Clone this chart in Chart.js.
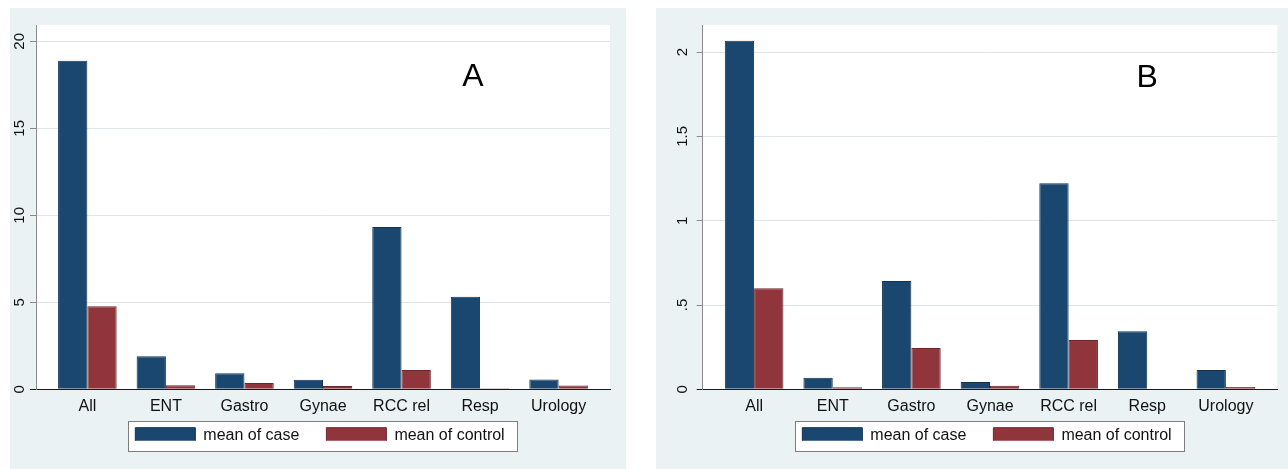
<!DOCTYPE html>
<html>
<head>
<meta charset="utf-8">
<script src="https://cdn.jsdelivr.net/npm/chart.js@4.4.0/dist/chart.umd.min.js"></script>
<style>
  html, body { margin: 0; padding: 0; background: #fff; }
  body { width: 1288px; height: 469px; position: relative; overflow: hidden; }
  .panel { position: absolute; top: 8px; height: 461px; background: #eaf2f3; }
  #panel-a { left: 10px; width: 616px; }
  #panel-b { left: 656px; width: 632px; }
</style>
</head>
<body>
<div class="panel" id="panel-a"><canvas id="chart-a"></canvas></div>
<div class="panel" id="panel-b"><canvas id="chart-b"></canvas></div>
<script>
// Data
const categories = ['All', 'ENT', 'Gastro', 'Gynae', 'RCC rel', 'Resp', 'Urology'];

const caseA = [18.88, 1.90, 0.92, 0.55, 9.33, 5.32, 0.57];
const controlA = [4.77, 0.23, 0.36, 0.19, 1.11, 0.06, 0.22];
const tickValuesA = [0, 5, 10, 15, 20];
const tickLabelsA = ['0', '5', '10', '15', '20'];

const caseB = [2.068, 0.069, 0.642, 0.043, 1.222, 0.344, 0.114];
const controlB = [0.600, 0.012, 0.245, 0.021, 0.292, 0.003, 0.014];
const tickValuesB = [0, 0.5, 1, 1.5, 2];
const tickLabelsB = ['0', '.5', '1', '1.5', '2'];

const FONT = '"Liberation Sans", Arial, Helvetica, sans-serif';
Chart.defaults.font.family = FONT;
Chart.defaults.color = '#111';

const NAVY = '#1a476f';
const MAROON = '#90353b';

// Stata-like look: white plot region, boxed legend, panel letter
const stataPanel = {
  id: 'stataPanel',
  afterLayout(chart, args, opts) {
    const lg = chart.legend;
    lg.left += opts.legendShiftX;
    lg.right += opts.legendShiftX;
    // items should start at a fixed distance below the plot
    const want = chart.chartArea.bottom + opts.legendGap - lg.options.labels.padding;
    const dy = want - lg.top;
    lg.top += dy;
    lg.bottom += dy;
  },
  beforeDraw(chart) {
    const { ctx, chartArea: a, legend } = chart;
    ctx.save();
    ctx.fillStyle = '#ffffff';
    ctx.fillRect(a.left, a.top, a.right - a.left, a.bottom - a.top);
    const hb = legend.legendHitBoxes;
    if (hb && hb.length) {
      const first = hb[0];
      const last = hb[hb.length - 1];
      const x0 = Math.round(first.left - 7) + 0.5;
      const x1 = Math.round(last.left + last.width + 12) + 0.5;
      const y0 = Math.round(first.top - 7) + 0.5;
      const y1 = Math.round(first.top + first.height + 7) + 0.5;
      ctx.fillRect(x0, y0, x1 - x0, y1 - y0);
      ctx.strokeStyle = '#7d7d7d';
      ctx.lineWidth = 1;
      ctx.strokeRect(x0, y0, x1 - x0, y1 - y0);
    }
    ctx.restore();
  },
  afterDatasetsDraw(chart, args, opts) {
    const { ctx, scales: { x, y } } = chart;
    ctx.save();
    ctx.font = '32px ' + FONT;
    ctx.fillStyle = '#000';
    ctx.textAlign = 'center';
    ctx.textBaseline = 'middle';
    ctx.fillText(opts.letter, x.getPixelForValue(opts.letterX), y.getPixelForValue(opts.letterY));
    ctx.restore();
  }
};

function makeChart(id, cfg) {
  const points = (vals) => vals.map((v, i) => ({ x: i, y: v }));
  return new Chart(document.getElementById(id), {
    type: 'bar',
    data: {
      datasets: [
        {
          label: 'mean of case',
          data: points(cfg.caseVals),
          backgroundColor: NAVY,
          borderColor: '#12324f',
          borderWidth: 1,
          categoryPercentage: 0.746,
          barPercentage: 1,
        },
        {
          label: 'mean of control',
          data: points(cfg.controlVals),
          backgroundColor: MAROON,
          borderColor: '#6c272c',
          borderWidth: 1,
          categoryPercentage: 0.746,
          barPercentage: 1,
        },
      ],
    },
    plugins: [stataPanel],
    options: {
      responsive: true,
      maintainAspectRatio: false,
      animation: false,
      layout: { padding: { top: 17, left: 0, right: cfg.padRight, bottom: 9.7 } },
      plugins: {
        tooltip: { enabled: false },
        legend: {
          position: 'bottom',
          fullSize: false,
          maxHeight: 40,
          labels: {
            boxWidth: 60,
            boxHeight: 16,
            padding: 27,
            color: '#111',
            font: { size: 16 },
          },
        },
        stataPanel: {
          legendShiftX: -3,
          legendGap: 38.4,
          letter: cfg.letter,
          letterX: cfg.letterX,
          letterY: cfg.letterY,
        },
      },
      scales: {
        x: {
          type: 'linear',
          min: -0.654,
          max: 6.654,
          offset: false,
          afterFit: (s) => { s.height = 30; },
          afterBuildTicks: (s) => { s.ticks = categories.map((c, i) => ({ value: i })); },
          ticks: {
            callback: (v, i) => categories[i],
            autoSkip: false,
            maxRotation: 0,
            padding: 8,
            color: '#111',
            font: { size: 16 },
          },
          grid: { display: false, drawTicks: false },
          border: { display: true, color: '#1a1a1a', width: 1 },
        },
        y: {
          min: 0,
          max: cfg.yMax,
          afterFit: (s) => { s.width = cfg.axisWidth; },
          afterBuildTicks: (s) => { s.ticks = cfg.tickValues.map((v) => ({ value: v })); },
          ticks: {
            callback: (v, i) => cfg.tickLabels[i],
            minRotation: 90,
            maxRotation: 90,
            crossAlign: 'center',
            padding: cfg.tickPad,
            color: '#111',
            font: { size: 15 },
          },
          grid: {
            color: (c) => (c.tick && c.tick.value === 0 ? 'rgba(0,0,0,0)' : '#dbe7eb'),
            tickColor: (c) => (c.tick && c.tick.value === 0 ? '#1a1a1a' : '#8a8a8a'),
            tickLength: 6,
            lineWidth: 1,
          },
          border: { color: '#8a8a8a', width: 1 },
        },
      },
    },
  });
}

makeChart('chart-a', {
  caseVals: caseA,
  controlVals: controlA,
  yMax: 20.94,
  tickValues: tickValuesA,
  tickLabels: tickLabelsA,
  axisWidth: 26,
  tickPad: 2,
  padRight: 16,
  letter: 'A',
  letterX: 4.91,
  letterY: 17.95,
});

makeChart('chart-b', {
  caseVals: caseB,
  controlVals: controlB,
  yMax: 2.161,
  tickValues: tickValuesB,
  tickLabels: tickLabelsB,
  axisWidth: 46.7,
  tickPad: 3,
  padRight: 10.7,
  letter: 'B',
  letterX: 5.0,
  letterY: 1.848,
});
</script>
</body>
</html>
